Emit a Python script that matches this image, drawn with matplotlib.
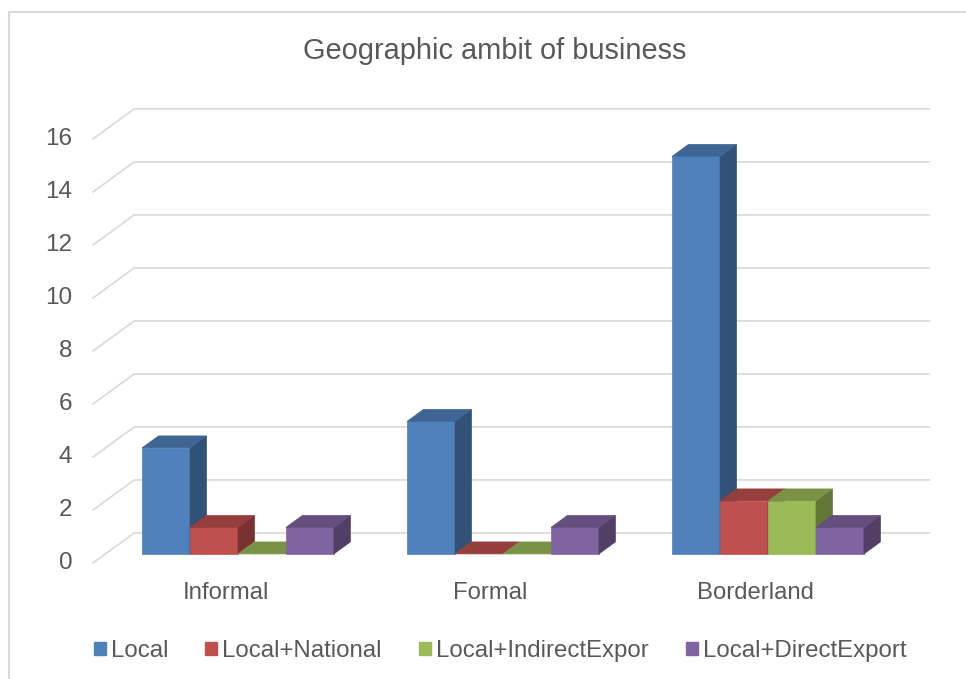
import matplotlib.pyplot as plt
from matplotlib.patches import Polygon, Patch
from matplotlib.lines import Line2D
import numpy as np

categories = ["Informal", "Formal", "Borderland"]
series = ["Local", "Local+National", "Local+IndirectExpor", "Local+DirectExport"]
local = [4, 5, 15]
local_national = [1, 0, 2]
local_indirect = [0, 0, 2]
local_direct = [1, 1, 1]
yticks = [0, 2, 4, 6, 8, 10, 12, 14, 16]
colors = ["#4F81BD", "#C0504D", "#9BBB59", "#8064A2"]

values = [local, local_national, local_indirect, local_direct]

plt.rcParams["font.family"] = ["Liberation Sans", "DejaVu Sans"]
text_col = "#595959"
grid_col = "#D9D9D9"

# fake 3d: depth d in [0, 1], bars sit between d=0.3 and d=0.7
DX = 0.155   # category units per full depth
DY = 1.13    # value units per full depth
W = 0.181    # bar width


def proj(x, v, d):
    return (x + (d - 0.3) * DX, v + (d - 0.3) * DY)


def shade(c, f):
    rgb = np.array(plt.matplotlib.colors.to_rgb(c))
    return tuple(rgb * f)


fig = plt.figure(figsize=(9.66, 6.79), dpi=100)
ax = fig.add_axes([0, 0, 1, 1])
ax.set_xlim(-0.898, 2.747)
ax.set_ylim(-4.72, 20.9)
ax.axis("off")

# gridlines: diagonal on the left side wall + horizontal on the back wall
for v in yticks:
    p0 = proj(-0.5, v, 0)
    p1 = proj(-0.5, v, 1)
    p2 = proj(2.5, v, 1)
    ax.plot([p0[0], p1[0], p2[0]], [p0[1], p1[1], p2[1]], color=grid_col, lw=1.2,
            solid_joinstyle="miter", zorder=1)
    ax.annotate(str(v), xy=p0, xytext=(-21, 0), textcoords="offset pixels",
                ha="right", va="center", fontsize=17.5, color=text_col)

# bars
for i, cat in enumerate(categories):
    for s in range(len(series)):
        h = values[s][i]
        x0 = i + (s - 2) * W
        x1 = x0 + W
        c = colors[s]
        front = [(x0, 0), (x1, 0), (x1, h), (x0, h)]
        top = [proj(x0, h, 0.3), proj(x1, h, 0.3), proj(x1, h, 0.7), proj(x0, h, 0.7)]
        side = [proj(x1, 0, 0.3), proj(x1, 0, 0.7), proj(x1, h, 0.7), proj(x1, h, 0.3)]
        z = 2 + i * 10 + s
        if h > 0:
            ax.add_patch(Polygon(front, closed=True, fc=c, ec=c, lw=0.5, zorder=z))
            ax.add_patch(Polygon(side, closed=True, fc=shade(c, 0.63), ec=shade(c, 0.63),
                                 lw=0.5, zorder=z))
        ax.add_patch(Polygon(top, closed=True, fc=shade(c, 0.78), ec=shade(c, 0.78),
                             lw=0.5, zorder=z))
    ax.annotate(cat, xy=proj(i, 0, 0), xytext=(0, -30), textcoords="offset pixels",
                ha="center", va="center", fontsize=17.2, color=text_col)

# title
fig.text(495 / 966, 1 - 51 / 679, "Geographic ambit of business", ha="center", va="center",
         fontsize=20.9, color=text_col)

# legend
handles = [Patch(facecolor=c, edgecolor=c) for c in colors]
fig.legend(handles, series, loc="center", bbox_to_anchor=(500 / 966, 1 - 651 / 679), ncol=4,
           frameon=False, fontsize=17.3, handlelength=0.5, handleheight=0.5,
           handletextpad=0.2, columnspacing=1.55, labelcolor=text_col)

# chart frame (left and top edges visible)
fig.add_artist(Line2D([9 / 966, 9 / 966, 1], [0, 1 - 12 / 679, 1 - 12 / 679],
                      transform=fig.transFigure, color=grid_col, lw=1.5))

fig.savefig("out.png", dpi=100)
